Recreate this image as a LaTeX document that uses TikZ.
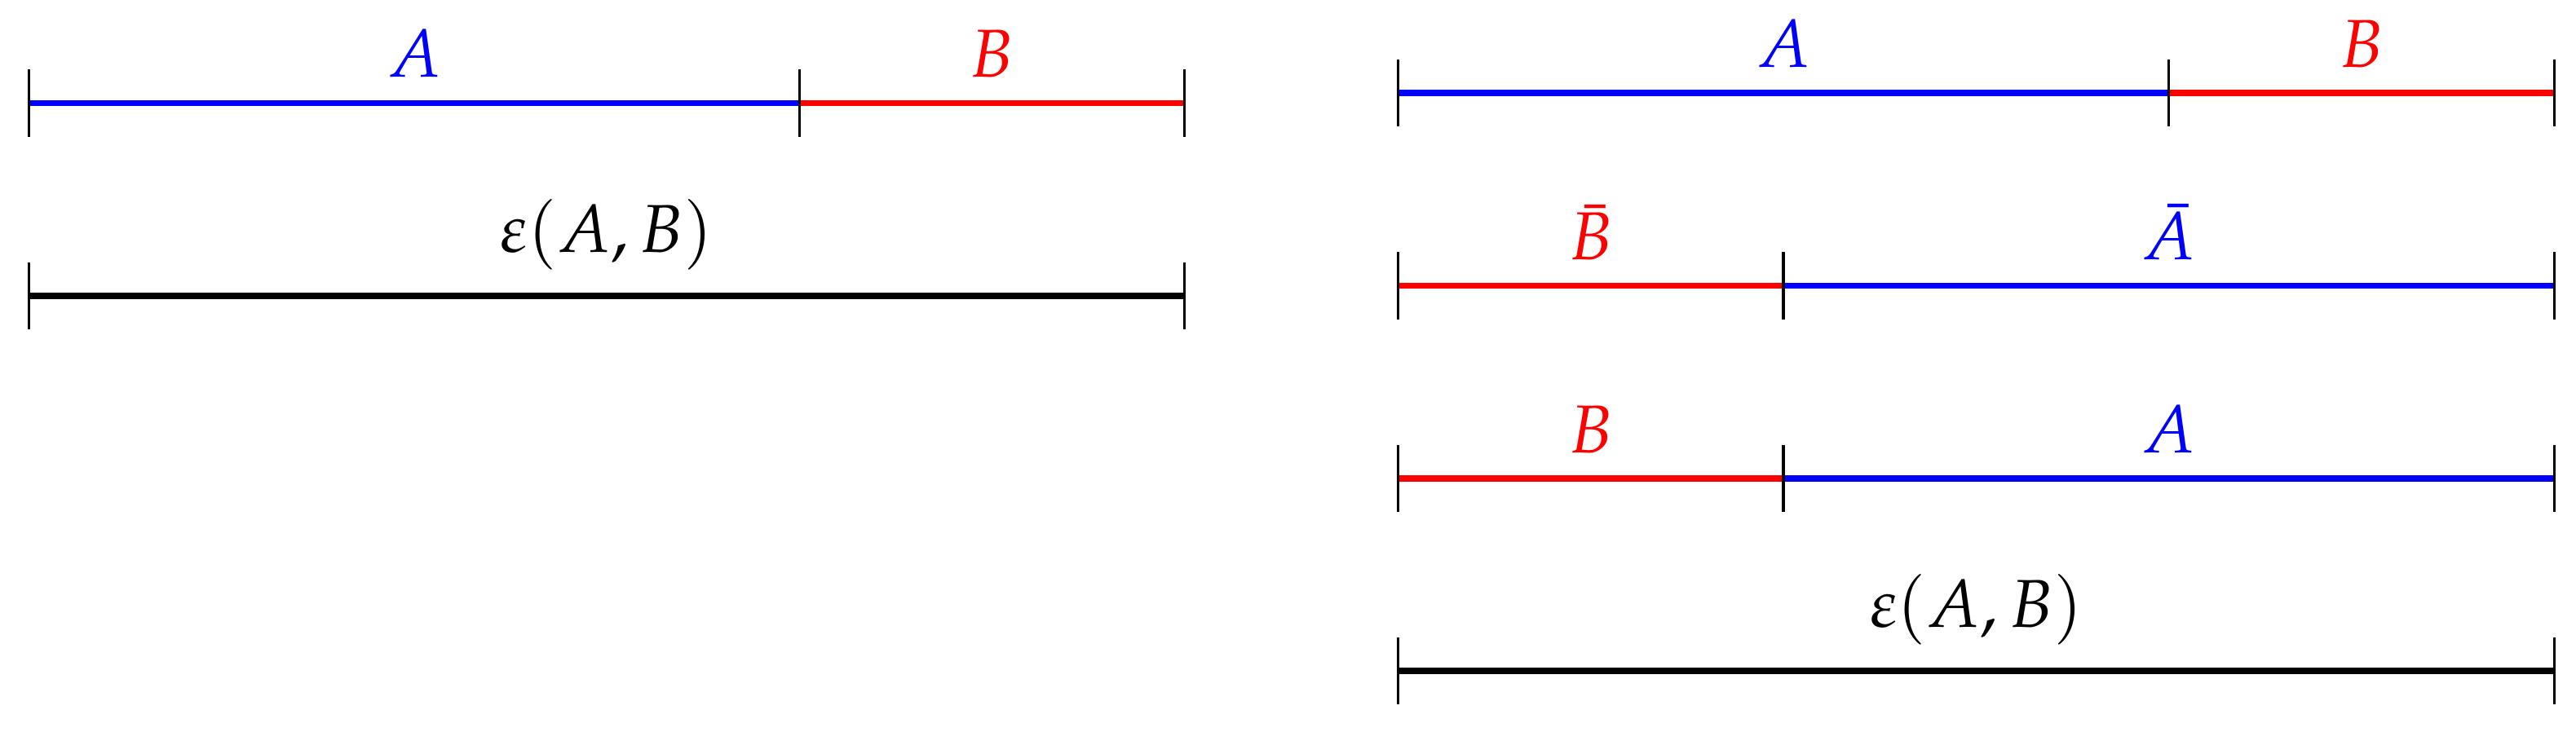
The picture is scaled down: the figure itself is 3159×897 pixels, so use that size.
\documentclass[tikz,border=0pt]{standalone}
\usepackage{mathpazo}
\begin{document}
\begin{tikzpicture}[x=0.0042319cm,y=-0.0042319cm,
  seg/.style={line width=0.9pt},
  segA/.style={seg,draw=blue},
  segB/.style={seg,draw=red},
  segE/.style={seg,draw=black},
  tk/.style={line width=0.4pt,draw=black},
  lab/.style={midway,above,inner sep=3.33pt}]
\useasboundingbox (0,0) rectangle (3159,897);
% coordinates
\coordinate (L1a) at (35.5,126.5);
\coordinate (L1b) at (980.5,126.5);
\coordinate (L1c) at (1452.5,126.5);
\coordinate (L2a) at (35.5,363);
\coordinate (L2c) at (1452.5,363);
\coordinate (R1a) at (1714.5,114);
\coordinate (R1b) at (2659.5,114);
\coordinate (R1c) at (3132.5,114);
\coordinate (R2a) at (1714.5,350.5);
\coordinate (R2b) at (2187,350.5);
\coordinate (R2c) at (3132.5,350.5);
\coordinate (R3a) at (1714.5,587);
\coordinate (R3b) at (2187,587);
\coordinate (R3c) at (3132.5,587);
\coordinate (R4a) at (1714.5,823);
\coordinate (R4c) at (3132.5,823);
% segments with labels
\draw[segA] (L1a) -- (L1b) node[lab,text=blue] (tL1A) {$A$};
\draw[segB] (L1b) -- (L1c) node[lab,text=red] (tL1B) {$B$};
\draw[segE] (L2a) -- (L2c) node[lab,text=black] (tL2) {$\varepsilon(A,B)$};
\draw[segA] (R1a) -- (R1b) node[lab,text=blue] (tR1A) {$A$};
\draw[segB] (R1b) -- (R1c) node[lab,text=red] (tR1B) {$B$};
\draw[segB] (R2a) -- (R2b) node[lab,text=red] (tR2B) {$\bar{B}$};
\draw[segA] (R2b) -- (R2c) node[lab,text=blue] (tR2A) {$\bar{A}$};
\draw[segB] (R3a) -- (R3b) node[lab,text=red] (tR3B) {$B$};
\draw[segA] (R3b) -- (R3c) node[lab,text=blue] (tR3A) {$A$};
\draw[segE] (R4a) -- (R4c) node[lab,text=black] (tR4) {$\varepsilon(A,B)$};
% ticks
\foreach \p in {L1a,L1b,L1c,L2a,L2c,R1a,R1b,R1c,R2a,R2b,R2c,R3a,R3b,R3c,R4a,R4c}
  \draw[tk] ([yshift=4.95pt]\p) -- ([yshift=-4.95pt]\p);
\end{tikzpicture}
\end{document}
